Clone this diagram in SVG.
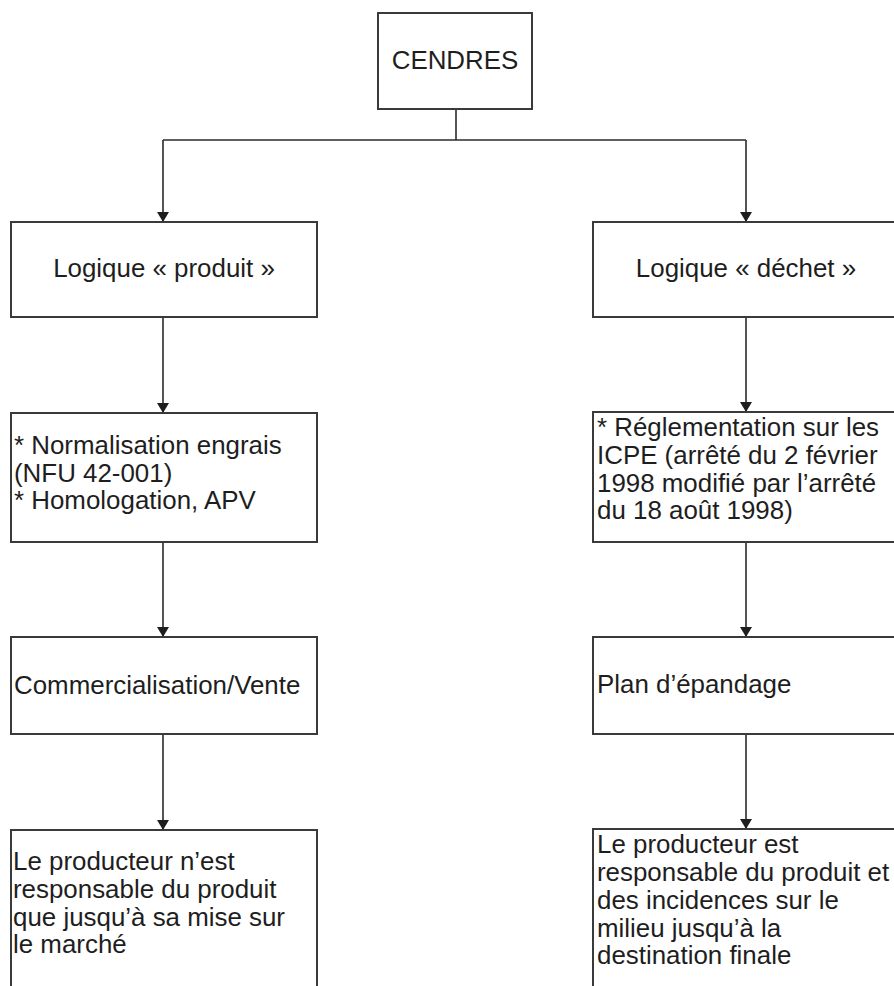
<svg xmlns="http://www.w3.org/2000/svg" width="894" height="986" viewBox="0 0 894 986">
<style>
.box{fill:#fff;stroke:#3a3a3a;stroke-width:2}
.t{font-family:"Liberation Sans",Arial,sans-serif;font-size:25.9px;fill:#1e1e1e}
.c{text-anchor:middle}
.ln{fill:none;stroke:#2a2a2a;stroke-width:1.6}
</style>
<defs>
<marker id="ah" viewBox="0 0 10 12" refX="10" refY="6" markerWidth="10" markerHeight="12" markerUnits="userSpaceOnUse" orient="auto">
<path d="M0,0 L10,6 L0,12 Z" fill="#1e1e1e"/>
</marker>
</defs>
<rect width="894" height="986" fill="#fff"/>
<g id="connectors">
<path class="ln" d="M456,109 V140"/>
<path class="ln" d="M163,140 H746"/>
<path class="ln" d="M163,140 V222" marker-end="url(#ah)"/>
<path class="ln" d="M746,140 V222" marker-end="url(#ah)"/>
<path class="ln" d="M163,317 V413" marker-end="url(#ah)"/>
<path class="ln" d="M163,542 V637" marker-end="url(#ah)"/>
<path class="ln" d="M163,734 V830" marker-end="url(#ah)"/>
<path class="ln" d="M746,317 V412" marker-end="url(#ah)"/>
<path class="ln" d="M746,542 V637" marker-end="url(#ah)"/>
<path class="ln" d="M746,734 V829" marker-end="url(#ah)"/>
</g>
<g id="cendres">
<rect class="box" x="378" y="13" width="154" height="96"/>
<text class="t c" x="455" y="69">CENDRES</text>
</g>
<g id="logique-produit">
<rect class="box" x="11" y="222" width="306" height="95"/>
<text class="t c" x="164" y="277">Logique « produit »</text>
</g>
<g id="logique-dechet">
<rect class="box" x="593" y="222" width="310" height="95"/>
<text class="t c" x="746" y="277">Logique « déchet »</text>
</g>
<g id="normalisation">
<rect class="box" x="11" y="413" width="306" height="129"/>
<text class="t" x="14" y="454">* Normalisation engrais</text>
<text class="t" x="14" y="482">(NFU 42-001)</text>
<text class="t" x="14" y="509">* Homologation, APV</text>
</g>
<g id="reglementation">
<rect class="box" x="593" y="412" width="310" height="130"/>
<text class="t" x="597" y="436">* Réglementation sur les</text>
<text class="t" x="597" y="464">ICPE (arrêté du 2 février</text>
<text class="t" x="597" y="492">1998 modifié par l’arrêté</text>
<text class="t" x="597" y="519">du 18 août 1998)</text>
</g>
<g id="commercialisation">
<rect class="box" x="11" y="637" width="306" height="97"/>
<text class="t" x="14" y="694">Commercialisation/Vente</text>
</g>
<g id="plan-epandage">
<rect class="box" x="593" y="637" width="310" height="97"/>
<text class="t" x="597" y="693">Plan d’épandage</text>
</g>
<g id="producteur-produit">
<rect class="box" x="11" y="830" width="306" height="170"/>
<text class="t" x="13" y="870">Le producteur n’est</text>
<text class="t" x="13" y="898">responsable du produit</text>
<text class="t" x="13" y="926">que jusqu’à sa mise sur</text>
<text class="t" x="13" y="953">le marché</text>
</g>
<g id="producteur-dechet">
<rect class="box" x="593" y="829" width="310" height="170"/>
<text class="t" x="597" y="853">Le producteur est</text>
<text class="t" x="597" y="881">responsable du produit et</text>
<text class="t" x="597" y="909">des incidences sur le</text>
<text class="t" x="597" y="937">milieu jusqu’à la</text>
<text class="t" x="597" y="964">destination finale</text>
</g>
</svg>
